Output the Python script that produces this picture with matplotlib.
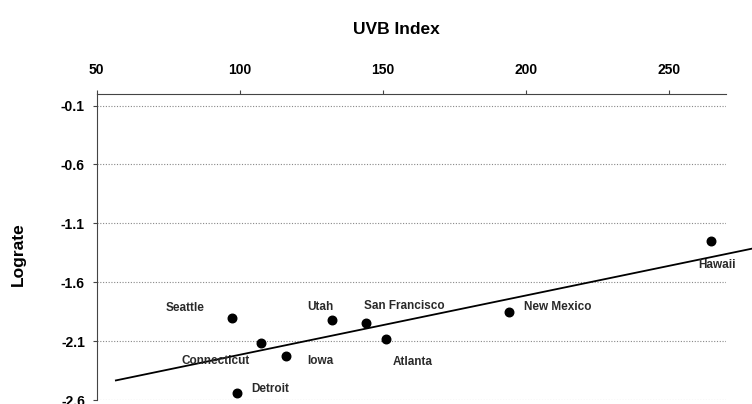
import numpy as np
import matplotlib.pyplot as plt

# UVB index vs log rate by location
places = ["Seattle", "Connecticut", "Iowa", "Detroit", "Utah",
          "San Francisco", "Atlanta", "New Mexico", "Hawaii"]
uvb = [97.4, 107.4, 116.1, 99.1, 132.1, 144.2, 151.1, 194.2, 264.9]
lograte = [-1.90, -2.12, -2.23, -2.54, -1.92, -1.95, -2.08, -1.85, -1.25]

# fitted line (slope, intercept) and its x extent
fit_slope = 0.00503
fit_intercept = -2.719
fit_range = [56.7, 279.0]

yticks = [-0.1, -0.6, -1.1, -1.6, -2.1, -2.6]
xticks = [50, 100, 150, 200, 250]

# label placement: (dx, dy) in pixels, horizontal alignment
label_pos = {
    "Seattle": (-28, 10, "right"),
    "Connecticut": (-11, -18, "right"),
    "Iowa": (21, -5, "left"),
    "Detroit": (14, 4, "left"),
    "Utah": (-11, 13, "center"),
    "San Francisco": (-2, 17, "left"),
    "Atlanta": (7, -23, "left"),
    "New Mexico": (15, 5, "left"),
    "Hawaii": (6, -24, "center"),
}

plt.rcParams['font.family'] = 'Liberation Sans'
plt.rcParams['font.weight'] = 'bold'

fig = plt.figure(figsize=(7.52, 4.04), dpi=100)
ax = fig.add_axes([0.1286, 0.0099, 0.9654 - 0.1286, 0.768 - 0.0099])

ax.set_xlim(50, 270)
ax.set_ylim(-2.6, 0.0)

for y in yticks:
    ax.axhline(y, color='#888888', lw=0.8, ls=(0, (1, 1.5)), zorder=0)

fx = np.array(fit_range)
ax.plot(fx, fit_intercept + fit_slope * fx, color='black', lw=1.3, clip_on=False)

ax.scatter(uvb, lograte, s=38, color='black', zorder=3, clip_on=False)

for name, x, y in zip(places, uvb, lograte):
    dx, dy, ha = label_pos[name]
    ax.annotate(name, (x, y), xytext=(dx, dy), textcoords='offset pixels',
                ha=ha, va='center', fontsize=8.5, fontweight='bold', color='#2a2a2a')

ax.xaxis.tick_top()
ax.set_xticks(xticks)
ax.set_yticks(yticks)
ax.set_yticklabels([f"{v:.1f}" for v in yticks])
ax.tick_params(axis='both', labelsize=10, length=3, width=0.8, color='#444444')
ax.tick_params(axis='x', pad=9)
ax.tick_params(axis='y', pad=5.5)
for lbl in ax.get_xticklabels() + ax.get_yticklabels():
    lbl.set_fontweight('bold')

ax.spines['bottom'].set_visible(False)
ax.spines['right'].set_visible(False)
ax.spines['top'].set_color('#444444')
ax.spines['left'].set_color('#444444')

fig.text(396 / 752, 1 - 30 / 404, "UVB Index", ha='center', va='center',
         fontsize=12.5, fontweight='bold')
fig.text(18 / 752, 1 - 254 / 404, "Lograte", ha='center', va='center',
         rotation=90, fontsize=12.5, fontweight='bold')

fig.savefig("out.png", dpi=100)
